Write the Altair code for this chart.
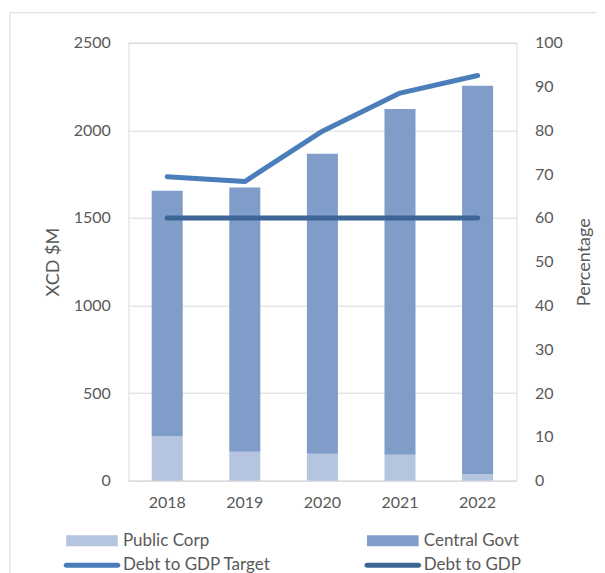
import altair as alt
import pandas as pd

years = ["2018", "2019", "2020", "2021", "2022"]
public_corp = [253, 165, 154, 148, 38]
central_govt = [1402, 1509, 1712, 1973, 2216]
debt_target = [69.4, 68.3, 79.8, 88.5, 92.5]
debt_gdp = [60, 60, 60, 60, 60]

left_ticks = [0, 500, 1000, 1500, 2000, 2500]
right_ticks = [0, 10, 20, 30, 40, 50, 60, 70, 80, 90, 100]

df = pd.DataFrame({
    "year": years,
    "public": public_corp,
    "central": central_govt,
    "target": debt_target,
    "debt": debt_gdp,
})

FONT = "Lato"
GREY = "#595959"
GRID = "#D9D9D9"
C_PUB = "#B5C4DF"
C_CEN = "#7F9DC8"
C_TGT = "#4A7DBA"
C_DEBT = "#3D6595"

SYM = 2663
RECT = "M-1,-0.213H1V0.213H-1Z"
CAPSULE = ("M-1,-0.097H1A0.097,0.097 0 0 1 1,0.097"
           "H-1A0.097,0.097 0 0 1 -1,-0.097Z")

x_enc = alt.X(
    "year:N", title=None, sort=years,
    scale=alt.Scale(paddingInner=0.6, paddingOuter=0.3),
    axis=alt.Axis(labelAngle=0, ticks=False, domain=True, domainColor=GRID,
                  labelPadding=14, labelFont=FONT, labelFontSize=16, labelColor=GREY),
)


def leg(x, y, stype, fill=None):
    kw = {}
    if fill is not None:
        kw["symbolFillColor"] = fill
        kw["symbolStrokeColor"] = fill
    return alt.Legend(orient="none", legendX=x, legendY=y, title=None,
                      symbolType=stype, symbolSize=SYM, symbolStrokeWidth=0,
                      labelFont=FONT, labelFontSize=17, labelColor=GREY,
                      labelOffset=5, padding=0, **kw)


frame = alt.Chart(pd.DataFrame({"a": [0]})).mark_rect(
    fillOpacity=0, stroke=GRID, strokeWidth=1
).encode(x=alt.value(-118.4), x2=alt.value(600), y=alt.value(-30), y2=alt.value(700))

bar_pub = alt.Chart(df).transform_calculate(s="'Public Corp'").mark_bar().encode(
    x=x_enc,
    y=alt.Y("public:Q", scale=alt.Scale(domain=[0, 2500], nice=False),
            axis=alt.Axis(values=left_ticks, format="d", title="XCD $M", grid=True,
                          gridColor=GRID, ticks=False, domain=False, labelPadding=18,
                          titlePadding=11,
                          labelFont=FONT, labelFontSize=16, labelColor=GREY,
                          titleFont=FONT, titleFontSize=18, titleColor=GREY,
                          titleFontWeight="normal")),
    color=alt.Color("s:N", scale=alt.Scale(domain=["Public Corp"], range=[C_PUB]),
                    legend=leg(-62.4, 472, RECT)),
)

bar_cen = alt.Chart(df).transform_calculate(
    s="'Central Govt'", total="datum.public + datum.central"
).mark_bar().encode(
    x=x_enc,
    y=alt.Y("public:Q", scale=alt.Scale(domain=[0, 2500], nice=False), axis=None),
    y2="total:Q",
    color=alt.Color("s:N", scale=alt.Scale(domain=["Central Govt"], range=[C_CEN]),
                    legend=leg(238.4, 472, RECT)),
)

line_tgt = alt.Chart(df).transform_calculate(s="'Debt to GDP Target'").mark_line(
    strokeWidth=5, strokeCap="round", strokeJoin="round"
).encode(
    x=x_enc,
    y=alt.Y("target:Q", scale=alt.Scale(domain=[0, 100], nice=False),
            axis=alt.Axis(orient="right", values=right_ticks, title="Percentage",
                          grid=False, ticks=False, domain=False, labelPadding=18,
                          titlePadding=31, titleAngle=-90,
                          labelFont=FONT, labelFontSize=16, labelColor=GREY,
                          titleFont=FONT, titleFontSize=18, titleColor=GREY,
                          titleFontWeight="normal")),
    color=alt.Color("s:N", scale=alt.Scale(domain=["Debt to GDP Target"], range=[C_TGT]),
                    legend=leg(-62.4, 496.5, CAPSULE, C_TGT)),
)

line_debt = alt.Chart(df).transform_calculate(s="'Debt to GDP'").mark_line(
    strokeWidth=5, strokeCap="round", strokeJoin="round"
).encode(
    x=x_enc,
    y=alt.Y("debt:Q", scale=alt.Scale(domain=[0, 100], nice=False), axis=None),
    color=alt.Color("s:N", scale=alt.Scale(domain=["Debt to GDP"], range=[C_DEBT]),
                    legend=leg(238.4, 496.5, CAPSULE, C_DEBT)),
)

chart = alt.layer(frame, bar_pub, bar_cen, line_tgt, line_debt).resolve_scale(
    y="independent", color="independent"
).properties(
    width=388, height=438,
    autosize=alt.AutoSizeParams(type="none"),
    padding={"left": 120.4, "top": 34.7, "right": 80, "bottom": 92.3},
).configure_view(stroke=None).configure(background="white")

chart.save("out.html", embed_options={"renderer": "svg", "actions": False})
